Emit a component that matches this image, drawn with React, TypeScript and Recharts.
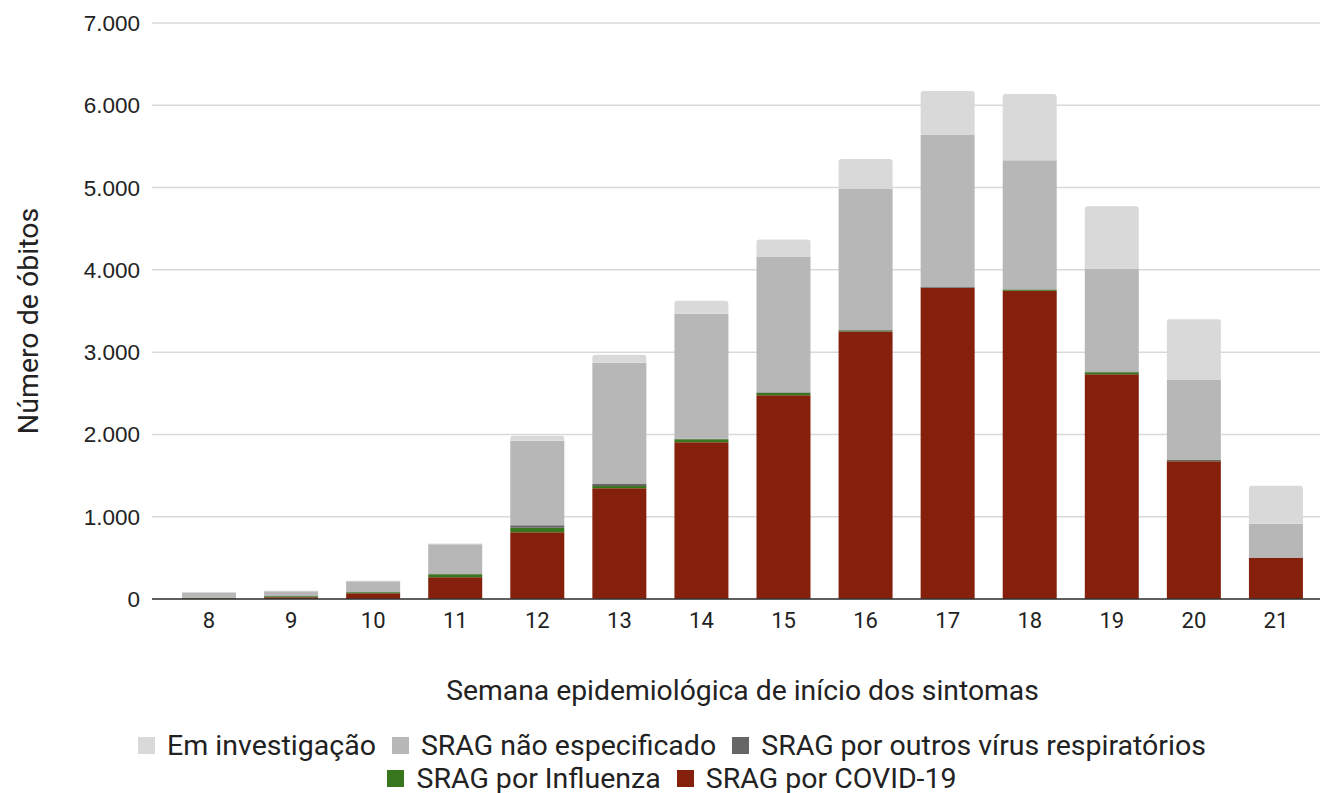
import { BarChart, Bar, XAxis, YAxis, CartesianGrid, Legend } from "recharts";

const weeks = ["8", "9", "10", "11", "12", "13", "14", "15", "16", "17", "18", "19", "20", "21"];
const covid = [3, 20, 70, 265, 810, 1345, 1905, 2475, 3250, 3780, 3745, 2730, 1675, 500];
const influenza = [10, 12, 12, 35, 56, 28, 35, 30, 10, 3, 15, 25, 3, 2];
const outros = [2, 3, 3, 10, 29, 25, 8, 8, 10, 15, 5, 10, 10, 3];
const naoEsp = [65, 60, 132, 355, 1029, 1473, 1520, 1650, 1712, 1840, 1566, 1253, 972, 410];
const emInv = [5, 5, 5, 8, 61, 97, 158, 206, 365, 535, 806, 754, 739, 462];
const yTicks = [0, 1000, 2000, 3000, 4000, 5000, 6000, 7000];

const series = [
  { key: "covid", name: "SRAG por COVID-19", color: "#85200c" },
  { key: "influenza", name: "SRAG por Influenza", color: "#38761d" },
  { key: "outros", name: "SRAG por outros vírus respiratórios", color: "#666666" },
  { key: "naoEsp", name: "SRAG não especificado", color: "#b7b7b7" },
  { key: "emInv", name: "Em investigação", color: "#d9d9d9" },
];
const legendRows = [["emInv", "naoEsp", "outros"], ["influenza", "covid"]];

const data = weeks.map((w, i) => ({
  week: w,
  covid: covid[i],
  influenza: influenza[i],
  outros: outros[i],
  naoEsp: naoEsp[i],
  emInv: emInv[i],
}));

const fmt = (v: number) => v.toLocaleString("de-DE");
const textColor = "#222222";

function LegendBox() {
  return (
    <div style={{ fontFamily: "Roboto", fontSize: 28.5, color: textColor }}>
      {legendRows.map((row, r) => (
        <div key={r} style={{ display: "flex", justifyContent: "center", height: 33, alignItems: "center" }}>
          {row.map((k) => {
            const s = series.find((x) => x.key === k)!;
            return (
              <div key={k} style={{ display: "flex", alignItems: "center", margin: "0 8px" }}>
                <span style={{ width: 17, height: 17, background: s.color, display: "inline-block", marginRight: 12 }} />
                <span>{s.name}</span>
              </div>
            );
          })}
        </div>
      ))}
    </div>
  );
}

export default function App() {
  return (
    <div style={{ position: "absolute", left: 0, top: 0, background: "#fff" }}>
      <BarChart width={1320} height={793} data={data} margin={{ top: 23, right: 0, left: 0, bottom: 84 }}>
        <CartesianGrid vertical={false} stroke="#d9d9d9" strokeWidth={1.5} />
        <XAxis
          dataKey="week"
          padding={{ left: 16, right: 3 }}
          tickLine={false}
          tickSize={0}
          tickMargin={13}
          height={110}
          stroke="#333333"
          axisLine={{ stroke: "#333333", strokeWidth: 1.5 }}
          tick={{ fill: textColor, fontFamily: "Roboto", fontSize: 22 }}
          label={{
            content: (p: any) => {
              const vb = p.viewBox;
              return (
                <text x={vb.x + 16 + (vb.width - 19) / 2} y={vb.y + 101} textAnchor="middle" fill={textColor} fontFamily="Roboto" fontSize={28.3}>
                  Semana epidemiológica de início dos sintomas
                </text>
              );
            },
          }}
        />
        <YAxis
          width={152}
          domain={[0, 7000]}
          ticks={yTicks}
          tickFormatter={fmt}
          axisLine={false}
          tickLine={false}
          tickSize={0}
          tickMargin={12}
          tick={{ fill: textColor, fontFamily: "Liberation Sans, Arial", fontSize: 22.5 }}
          label={{
            content: (p: any) => {
              const vb = p.viewBox;
              const cy = vb.y + vb.height / 2 + 10;
              return (
                <text x={28} y={cy} transform={`rotate(-90 28 ${cy})`} textAnchor="middle" dominantBaseline="central" fill={textColor} fontFamily="Roboto" fontSize={28.5}>
                  Número de óbitos
                </text>
              );
            },
          }}
        />
        <Legend
          layout="horizontal"
          verticalAlign="middle"
          align="center"
          wrapperStyle={{ top: 729, left: 24, width: 1296 }}
          content={() => <LegendBox />}
        />
        {series.map((s) => (
          <Bar
            key={s.key}
            dataKey={s.key}
            name={s.name}
            stackId="a"
            fill={s.color}
            barSize={54}
            radius={s.key === "emInv" ? [3, 3, 0, 0] : 0}
            isAnimationActive={false}
          />
        ))}
      </BarChart>
    </div>
  );
}
